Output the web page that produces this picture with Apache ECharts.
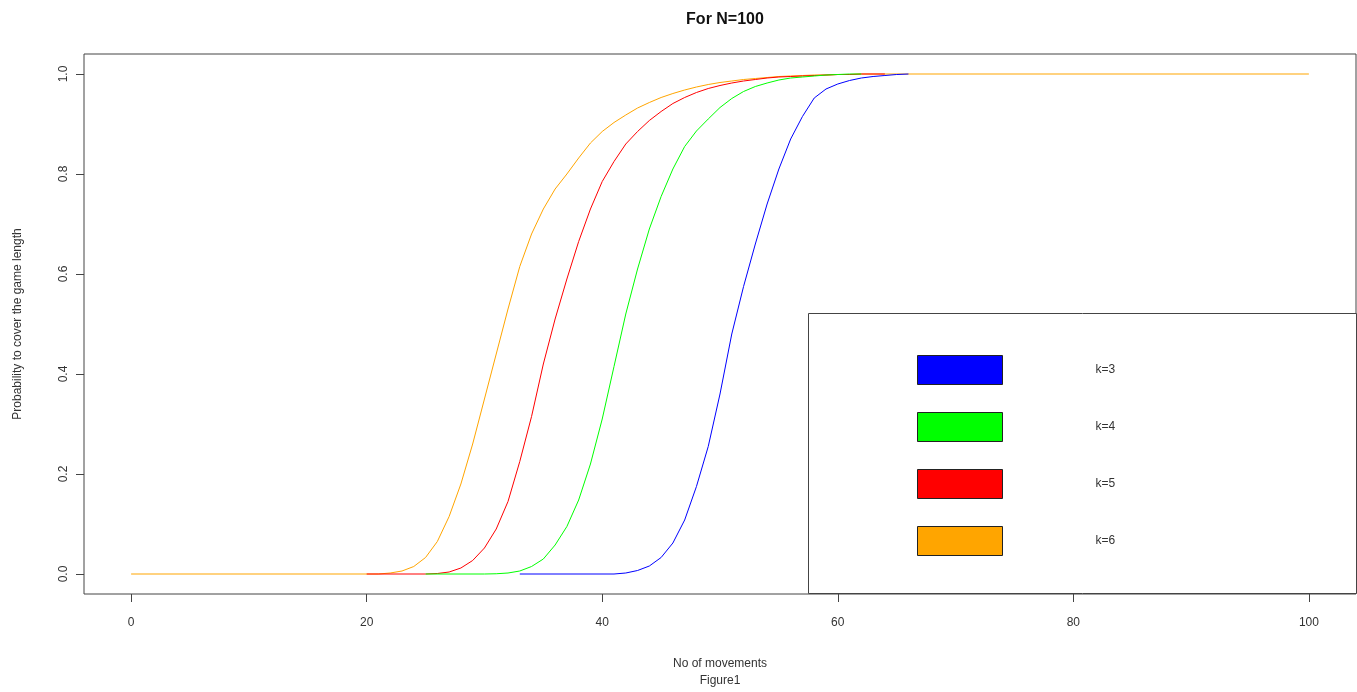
<!DOCTYPE html>
<html>
<head>
<meta charset="utf-8">
<script src="https://cdn.jsdelivr.net/npm/echarts@6/dist/echarts.min.js"></script>
<style>
html,body{margin:0;padding:0;background:#fff;}
#chart{width:1357px;height:692px;}
</style>
</head>
<body>
<div id="chart"></div>
<script>
// Data: [movements, probability]
const chartTitle = 'For N=100';
const xTicks = [0, 20, 40, 60, 80, 100];
const yTicks = [0, 0.2, 0.4, 0.6, 0.8, 1.0];
const seriesNames = ['k=3', 'k=4', 'k=5', 'k=6'];
const seriesColors = ['#0000ff', '#00ff00', '#ff0000', '#ffa500'];

const k3 = [[33,0],[41,0],[42,0.002],[43,0.007],[44,0.016],[45,0.033],[46,0.062],[47,0.108],[48,0.175],
  [49,0.255],[50,0.36],[51,0.48],[52,0.575],[53,0.66],[54,0.74],[55,0.81],[56,0.87],[57,0.915],
  [58,0.952],[59,0.97],[60,0.98],[61,0.987],[62,0.992],[63,0.995],[64,0.997],[65,0.999],[66,1]];

const k4 = [[25,0],[30,0],[31,0.0005],[32,0.002],[33,0.006],[34,0.015],[35,0.03],[36,0.058],[37,0.095],
  [38,0.148],[39,0.22],[40,0.31],[41,0.415],[42,0.52],[43,0.61],[44,0.69],[45,0.755],[46,0.81],
  [47,0.855],[48,0.886],[49,0.91],[50,0.933],[51,0.951],[52,0.965],[53,0.975],[54,0.982],[55,0.988],
  [56,0.992],[57,0.994],[58,0.996],[59,0.998],[60,0.999],[61,1],[62,1]];

const k5 = [[20,0],[25,0],[26,0.001],[27,0.004],[28,0.012],[29,0.027],[30,0.052],[31,0.09],[32,0.145],
  [33,0.225],[34,0.315],[35,0.42],[36,0.51],[37,0.59],[38,0.665],[39,0.73],[40,0.785],[41,0.825],
  [42,0.86],[43,0.885],[44,0.907],[45,0.925],[46,0.941],[47,0.953],[48,0.963],[49,0.971],[50,0.977],
  [51,0.982],[52,0.986],[53,0.989],[54,0.992],[55,0.994],[56,0.995],[57,0.996],[58,0.997],[59,0.998],
  [60,0.999],[61,0.999],[62,1],[64,1]];

const k6 = [[0,0],[21,0],[22,0.002],[23,0.006],[24,0.015],[25,0.033],[26,0.065],[27,0.115],[28,0.18],
  [29,0.26],[30,0.35],[31,0.44],[32,0.53],[33,0.615],[34,0.68],[35,0.73],[36,0.77],[37,0.80],
  [38,0.832],[39,0.862],[40,0.885],[41,0.903],[42,0.918],[43,0.932],[44,0.943],[45,0.953],[46,0.961],
  [47,0.968],[48,0.974],[49,0.979],[50,0.983],[51,0.986],[52,0.989],[53,0.991],[54,0.993],[55,0.995],
  [56,0.996],[57,0.997],[58,0.998],[59,0.998],[60,0.999],[61,0.999],[62,1],[100,1]];

const seriesData = [k3, k4, k5, k6];

const FONT = "'Liberation Sans', Arial, sans-serif";
const chart = echarts.init(document.getElementById('chart'), null, {renderer: 'canvas'});

// draw k=6 first so k=3 ends up on top (as in the reference)
const series = [3, 2, 1, 0].map(i => ({
  name: seriesNames[i],
  type: 'line',
  data: seriesData[i],
  showSymbol: false,
  symbol: 'none',
  lineStyle: {color: seriesColors[i], width: 1},
  itemStyle: {color: seriesColors[i]},
  animation: false
}));

chart.setOption({
  backgroundColor: '#fff',
  animation: false,
  title: {
    text: chartTitle,
    left: 720, top: 7, textAlign: 'center',
    textStyle: {fontFamily: FONT, fontSize: 16, fontWeight: 'bold', color: '#111'}
  },
  grid: {
    left: 84, right: 1, top: 54, bottom: 98,
    outerBoundsMode: 'none', containLabel: false,
    show: true, borderColor: '#444', borderWidth: 1, backgroundColor: 'transparent'
  },
  xAxis: {
    type: 'value', min: -4, max: 104,
    name: 'No of movements\nFigure1',
    nameLocation: 'middle', nameGap: 61,
    nameTextStyle: {fontFamily: FONT, fontSize: 12, color: '#333', lineHeight: 17},
    axisLine: {show: false, onZero: false},
    axisTick: {show: true, inside: false, length: 8, lineStyle: {color: '#444'}, customValues: xTicks},
    axisLabel: {fontFamily: FONT, fontSize: 12, color: '#333', margin: 23, customValues: xTicks},
    splitLine: {show: false}
  },
  yAxis: {
    type: 'value', min: -0.04, max: 1.04,
    name: 'Probability to cover the game length',
    nameLocation: 'middle', nameGap: 60,
    nameTextStyle: {fontFamily: FONT, fontSize: 12, color: '#333'},
    axisLine: {show: false, onZero: false},
    axisTick: {show: true, inside: false, length: 8, lineStyle: {color: '#444'}, customValues: yTicks},
    axisLabel: {fontFamily: FONT, fontSize: 12, color: '#333', margin: 14, rotate: 90,
      customValues: yTicks, formatter: v => v.toFixed(1)},
    splitLine: {show: false}
  },
  legend: {
    data: seriesNames,
    orient: 'vertical',
    left: 917, top: 355, padding: 0,
    icon: 'rect',
    itemWidth: 85, itemHeight: 29, itemGap: 27,
    itemStyle: {borderColor: '#222', borderWidth: 1},
    textStyle: {fontFamily: FONT, fontSize: 12, color: '#333', padding: [0, 0, 0, 88]},
    selectedMode: false
  },
  graphic: [{
    type: 'rect', z: 3,
    shape: {x: 808.5, y: 313.5, width: 548, height: 280},
    style: {fill: '#fff', stroke: '#444', lineWidth: 1}
  }],
  series: series
});
</script>
</body>
</html>
